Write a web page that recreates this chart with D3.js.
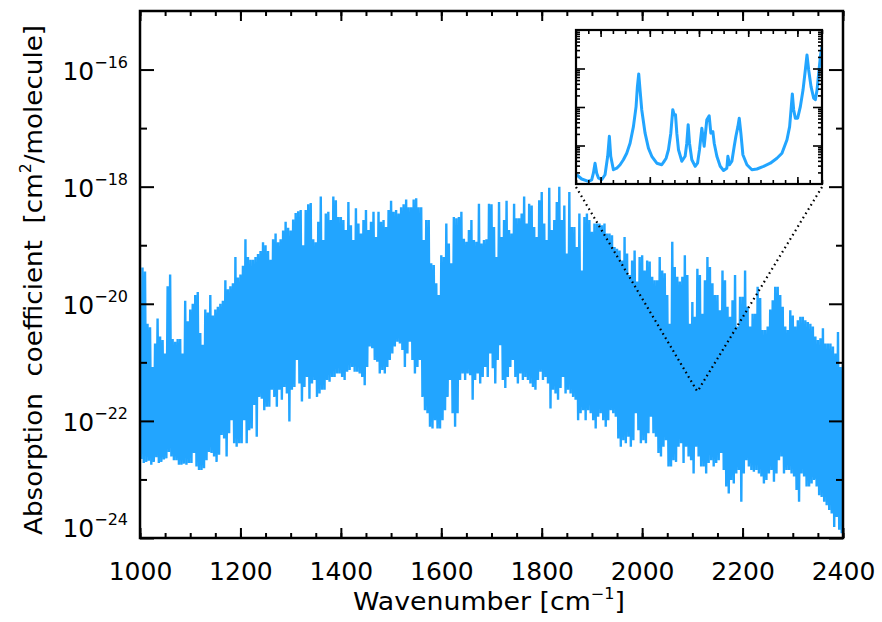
<!DOCTYPE html>
<html>
<head>
<meta charset="utf-8">
<script src="https://cdn.jsdelivr.net/npm/d3@7"></script>
<style>
  html, body { margin: 0; padding: 0; background: #fff; }
  svg { display: block; }
  text { font-family: "DejaVu Sans", sans-serif; fill: #000; }
</style>
</head>
<body>
<svg id="chart" width="882" height="622"></svg>
<script>
// ---- data (log10 of absorption coefficient, cm^2/molecule) ----
// peak values sampled every 5 cm^-1 starting at 1000 cm^-1
const WN_START = 1000, WN_STEP = 5;
const peakLog = [
  -20.2, -19.38, -19.45, -20.34, -20.4, -21.08, -20.68, -20.25, -20.56, -20.62,
  -20.85, -19.7, -19.5, -20.6, -20.65, -20.6, -20.6, -20.85, -19.95, -20.3,
  -20.1, -20.0, -19.85, -19.8, -20.5, -20.7, -20.1, -20.15, -19.85, -20.2,
  -20.1, -20.05, -20.0, -19.95, -19.6, -19.75, -19.7, -19.65, -19.2, -19.55,
  -19.5, -19.35, -18.9, -19.2, -19.25, -19.25, -19.2, -19.15, -19.1, -18.95,
  -19.0, -19.1, -19.25, -18.9, -18.8, -18.95, -18.9, -18.75, -18.6, -18.7,
  -18.75, -18.56, -18.45, -18.42, -18.4, -19.0, -18.4, -18.3, -18.28, -18.9,
  -18.95, -18.6, -18.17, -18.91, -18.46, -18.43, -18.57, -18.17, -18.23, -18.52,
  -18.52, -18.57, -18.74, -18.26, -18.66, -18.91, -18.37, -18.63, -18.8, -18.57,
  -18.4, -18.74, -18.6, -18.43, -18.86, -18.43, -18.6, -18.57, -18.69, -18.4,
  -18.24, -18.43, -18.4, -18.46, -18.35, -18.3, -18.22, -18.35, -18.35, -18.22,
  -18.2, -18.35, -18.35, -18.91, -18.57, -18.57, -19.31, -19.34, -19.65, -19.85,
  -19.17, -19.2, -18.63, -18.97, -19.31, -18.52, -18.54, -18.52, -18.43, -18.89,
  -18.94, -18.74, -18.57, -18.91, -18.94, -18.29, -18.97, -18.91, -18.9, -18.29,
  -18.3, -18.69, -19.2, -18.26, -18.86, -18.57, -18.24, -18.74, -18.8, -18.29,
  -18.54, -18.54, -18.46, -18.17, -18.63, -18.29, -18.32, -18.69, -18.86, -18.23,
  -18.09, -18.63, -18.91, -18.02, -18.74, -18.57, -18.26, -18.0, -18.57, -18.32,
  -19.14, -18.09, -18.69, -18.69, -19.03, -18.46, -19.43, -18.52, -18.46, -18.57,
  -18.77, -18.63, -18.63, -18.63, -18.66, -18.63, -18.8, -18.8, -18.83, -19.03,
  -19.06, -19.09, -19.26, -18.86, -19.14, -19.51, -19.26, -19.09, -19.62, -19.2,
  -19.17, -19.43, -19.26, -19.28, -19.54, -19.6, -19.6, -19.2, -19.43, -19.48,
  -19.85, -20.34, -18.94, -19.37, -19.54, -19.62, -19.54, -19.17, -19.51, -20.34,
  -19.97, -20.22, -19.4, -19.51, -20.17, -19.6, -19.2, -19.37, -19.65, -19.85,
  -19.85, -20.11, -19.43, -19.6, -20.05, -20.22, -19.94, -19.51, -20.39, -19.88,
  -19.88, -19.43, -20.05, -20.39, -20.17, -20.17, -19.71, -19.9, -20.45, -20.45,
  -20.39, -20.1, -19.94, -19.71, -19.71, -19.85, -20.05, -20.39, -20.45, -20.11,
  -20.2, -20.39, -20.28, -20.22, -20.22, -20.28, -20.31, -20.34, -20.39, -20.56,
  -20.62, -20.59, -20.42, -20.68, -20.68, -20.68, -20.73, -20.85, -20.48, -21.08,
  -21.02
];
// trough values sampled every 5 cm^-1 starting at 1002.5 cm^-1
const TROUGH_START = 1002.5;
const troughLog = [
  -22.65, -22.72, -22.7, -22.68, -22.75, -22.7, -22.62, -22.72, -22.7, -22.66,
  -22.64, -22.53, -22.61, -22.67, -22.67, -22.75, -22.75, -22.73, -22.75, -22.72,
  -22.72, -22.55, -22.78, -22.84, -22.84, -22.81, -22.67, -22.53, -22.55, -22.61,
  -22.7, -22.58, -22.24, -22.3, -22.61, -22.21, -21.99, -22.38, -22.44, -22.38,
  -22.38, -21.99, -22.38, -22.16, -22.13, -21.73, -22.27, -21.59, -21.62, -21.82,
  -21.76, -21.76, -21.47, -21.59, -21.76, -21.47, -21.64, -21.42, -21.53, -22.01,
  -21.47, -21.42, -20.96, -21.36, -21.67, -21.42, -21.25, -21.62, -21.36, -21.3,
  -21.59, -21.53, -21.47, -21.47, -21.3, -21.33, -21.25, -21.25, -21.19, -21.19,
  -21.25, -21.3, -21.16, -21.13, -21.08, -21.16, -21.16, -21.19, -21.25, -21.39,
  -21.08, -20.73, -20.76, -20.96, -20.99, -21.19, -21.13, -21.19, -21.08, -20.96,
  -20.85, -20.73, -20.65, -20.68, -20.79, -21.08, -20.85, -20.65, -20.96, -21.19,
  -21.08, -20.96, -21.59, -21.82, -21.87, -22.1, -22.13, -21.99, -22.13, -22.13,
  -21.99, -21.82, -21.59, -21.3, -21.87, -22.1, -21.87, -21.3, -21.19, -21.3,
  -21.19, -21.22, -21.64, -21.3, -21.19, -21.36, -21.25, -21.08, -21.25, -20.85,
  -21.1, -21.36, -20.96, -20.71, -21.3, -21.44, -21.25, -21.08, -20.96, -21.25,
  -21.36, -21.19, -21.3, -21.25, -21.3, -21.36, -21.42, -21.47, -21.3, -21.16,
  -21.3, -21.25, -21.36, -21.79, -21.47, -21.53, -21.64, -21.44, -21.25, -21.53,
  -21.47, -21.53, -21.59, -21.64, -21.99, -21.87, -21.82, -21.99, -21.82, -21.87,
  -21.99, -22.13, -21.93, -21.87, -21.99, -22.1, -21.99, -21.82, -21.87, -21.93,
  -22.3, -22.44, -22.33, -22.38, -22.27, -22.44, -22.33, -21.87, -22.16, -22.38,
  -22.33, -22.38, -22.21, -21.93, -22.21, -22.27, -22.55, -22.61, -22.44, -22.33,
  -22.78, -22.78, -22.67, -22.7, -22.44, -22.38, -22.72, -22.44, -22.61, -22.67,
  -22.9, -22.44, -22.61, -22.78, -22.78, -22.9, -22.72, -22.67, -22.78, -22.72,
  -22.67, -22.55, -22.84, -23.12, -23.24, -23.01, -23.07, -22.9, -22.84, -23.38,
  -22.9, -22.67, -22.78, -22.84, -22.87, -22.84, -22.9, -22.95, -23.07, -23.01,
  -22.9, -22.84, -23.04, -22.9, -22.67, -22.61, -22.9, -22.84, -22.84, -22.9,
  -22.95, -23.18, -23.38, -22.9, -22.95, -23.12, -23.12, -23.07, -23.01, -23.12,
  -23.27, -23.3, -23.38, -23.44, -23.52, -23.58, -23.81, -23.64, -23.86, -23.92
];
// zoomed inset: a single window around 2110 cm^-1
const insetWn = [
  2109.7514, 2109.7615, 2109.7751, 2109.7819, 2109.7853, 2109.7887, 2109.7921, 2109.7955, 2109.8022, 2109.8090,
  2109.8144, 2109.8178, 2109.8206, 2109.8260, 2109.8328, 2109.8396, 2109.8463, 2109.8531, 2109.8599, 2109.8667,
  2109.8721, 2109.8748, 2109.8775, 2109.8802, 2109.8836, 2109.8904, 2109.8972, 2109.9040, 2109.9142, 2109.9243,
  2109.9291, 2109.9332, 2109.9379, 2109.9427, 2109.9467, 2109.9495, 2109.9522, 2109.9549, 2109.9583, 2109.9651,
  2109.9718, 2109.9752, 2109.9780, 2109.9807, 2109.9854, 2109.9922, 2109.9970, 2110.0010, 2110.0058, 2110.0105,
  2110.0159, 2110.0207, 2110.0241, 2110.0282, 2110.0309, 2110.0363, 2110.0431, 2110.0499, 2110.0566, 2110.0587,
  2110.0621, 2110.0668, 2110.0716, 2110.0750, 2110.0790, 2110.0818, 2110.0851, 2110.0892, 2110.0974, 2110.1075,
  2110.1177, 2110.1313, 2110.1449, 2110.1584, 2110.1686, 2110.1788, 2110.1842, 2110.1876, 2110.1897, 2110.1924,
  2110.1958, 2110.2005, 2110.2060, 2110.2114, 2110.2161, 2110.2195, 2110.2229, 2110.2277, 2110.2331, 2110.2365,
  2110.2399, 2110.2433, 2110.2467, 2110.2500
];
const insetLog = [
  -22.76, -22.87, -22.93, -22.89, -22.72, -22.46, -22.72, -22.84, -22.89, -22.76,
  -22.28, -21.76, -22.28, -22.63, -22.59, -22.50, -22.37, -22.20, -21.94, -21.51,
  -20.99, -20.47, -20.14, -20.56, -21.07, -21.68, -22.07, -22.28, -22.46, -22.50,
  -22.41, -22.33, -22.11, -21.68, -21.07, -21.20, -21.20, -21.68, -22.11, -22.41,
  -22.28, -21.94, -21.46, -21.94, -22.37, -22.54, -22.46, -22.11, -21.55, -22.02,
  -21.33, -21.23, -21.68, -21.64, -21.94, -22.28, -22.54, -22.65, -22.59, -22.28,
  -22.50, -22.41, -22.02, -21.76, -21.51, -21.29, -21.68, -22.24, -22.50, -22.63,
  -22.61, -22.54, -22.46, -22.33, -22.20, -21.85, -21.51, -20.99, -20.66, -21.07,
  -21.29, -21.29, -20.99, -20.56, -20.04, -19.65, -20.04, -20.47, -20.77, -20.81,
  -20.56, -20.12, -19.69, -19.43
];
const insetCenterWn = 2110, insetCenterLog = -21.5;

const xTickLabels = [1000, 1200, 1400, 1600, 1800, 2000, 2200, 2400];
const xMinorTicks = d3.range(1000, 2401, 50);
const yTickExps = [-24, -22, -20, -18, -16];
const yMinorExps = [-23, -21, -19, -17];

// ---- layout ----
const L = 140, R = 843, T = 11, B = 538;
const BLUE = "#22a5ff";
const svg = d3.select("#chart");

const x = d3.scaleLinear().domain([1000, 2400]).range([L, R]);
const y = d3.scaleLog().domain([1e-24, 1e-15]).range([B, T]);

// spectrum as peak/trough zig-zag
const pts = [];
for (let i = 0; i < peakLog.length; i++) {
  pts.push([WN_START + WN_STEP * i, Math.pow(10, peakLog[i])]);
  if (i < troughLog.length) pts.push([TROUGH_START + WN_STEP * i, Math.pow(10, troughLog[i])]);
}
svg.append("clipPath").attr("id", "plotclip")
  .append("rect").attr("x", L).attr("y", T).attr("width", R - L).attr("height", B - T);
svg.append("path")
  .datum(pts)
  .attr("clip-path", "url(#plotclip)")
  .attr("fill", "none")
  .attr("stroke", BLUE)
  .attr("stroke-width", 2.4)
  .attr("stroke-linejoin", "bevel")
  .attr("d", d3.line().x(d => x(d[0])).y(d => y(d[1])));

// ---- axes ----
function styleAxis(g) {
  g.select(".domain").remove();
  g.selectAll(".tick line").attr("stroke", "#000").attr("stroke-width", 2);
}
svg.append("g").attr("transform", `translate(0,${B})`)
  .call(d3.axisBottom(x).tickValues(xMinorTicks).tickSize(-5).tickFormat(""))
  .call(styleAxis);
const xAx = svg.append("g").attr("transform", `translate(0,${B})`)
  .call(d3.axisBottom(x).tickValues(xTickLabels).tickSize(-10).tickPadding(24).tickFormat(d3.format("d")))
  .call(styleAxis);
xAx.selectAll(".tick text").attr("font-size", 25).attr("font-family", "DejaVu Sans").attr("fill", "#000");
svg.append("g").attr("transform", `translate(0,${T})`)
  .call(d3.axisTop(x).tickValues(xMinorTicks).tickSize(-5).tickFormat(""))
  .call(styleAxis);
svg.append("g").attr("transform", `translate(0,${T})`)
  .call(d3.axisTop(x).tickValues(xTickLabels).tickSize(-10).tickFormat(""))
  .call(styleAxis);

const yMajor = yTickExps.map(e => Math.pow(10, e));
const yMinor = yMinorExps.map(e => Math.pow(10, e));
const yAx = svg.append("g").attr("transform", `translate(${L},0)`)
  .call(d3.axisLeft(y).tickValues(yMajor).tickSize(-14).tickPadding(12))
  .call(styleAxis);
svg.append("g").attr("transform", `translate(${L},0)`)
  .call(d3.axisLeft(y).tickValues(yMinor).tickSize(-7).tickFormat(""))
  .call(styleAxis);
svg.append("g").attr("transform", `translate(${R},0)`)
  .call(d3.axisRight(y).tickValues(yMajor).tickSize(-14).tickFormat(""))
  .call(styleAxis);
svg.append("g").attr("transform", `translate(${R},0)`)
  .call(d3.axisRight(y).tickValues(yMinor).tickSize(-7).tickFormat(""))
  .call(styleAxis);

yAx.selectAll(".tick text").each(function(d, i) {
  const e = yTickExps[i];
  const t = d3.select(this);
  t.text(null).attr("dy", null).attr("font-size", 25).attr("fill", "#000")
    .attr("y", e === -24 ? -2 : 10);
  t.append("tspan").text("10");
  t.append("tspan").attr("font-size", 16).attr("dy", -12).text("\u2212" + Math.abs(e));
});

// frame
svg.append("rect").attr("x", L).attr("y", T).attr("width", R - L).attr("height", B - T)
  .attr("fill", "none").attr("stroke", "#000").attr("stroke-width", 2.5);

// axis titles
svg.append("text")
  .attr("x", 489).attr("y", 610).attr("text-anchor", "middle").attr("font-size", 25)
  .attr("textLength", 272).attr("lengthAdjust", "spacingAndGlyphs")
  .call(t => {
    t.append("tspan").text("Wavenumber [cm");
    t.append("tspan").attr("font-size", 15).attr("dy", -11).text("\u22121");
    t.append("tspan").attr("dy", 11).text("]");
  });
svg.append("text")
  .attr("transform", "translate(42,280) rotate(-90)")
  .attr("text-anchor", "middle").attr("font-size", 25)
  .attr("textLength", 510).attr("lengthAdjust", "spacingAndGlyphs")
  .call(t => {
    t.append("tspan").text("Absorption\u00a0\u00a0coefficient\u00a0\u00a0[cm");
    t.append("tspan").attr("font-size", 15).attr("dy", -11).text("2");
    t.append("tspan").attr("dy", 11).text("/molecule]");
  });

// ---- inset ----
const IL = 576, IR = 822, IT = 30, IB = 184;
const xi = d3.scaleLinear().domain([2109.75, 2110.25]).range([IL, IR]);
const yi = d3.scaleLog().domain([1e-23, 1e-19]).range([IB, IT]);

// connector dotted lines
const cx = x(insetCenterWn), cy = y(Math.pow(10, insetCenterLog));
[[IL, IB], [IR, IB]].forEach(p => {
  svg.append("line").attr("x1", p[0]).attr("y1", p[1] + 3).attr("x2", cx).attr("y2", cy)
    .attr("stroke", "#000").attr("stroke-width", 2.2).attr("stroke-dasharray", "1.6,3.4");
});

svg.append("rect").attr("x", IL).attr("y", IT).attr("width", IR - IL).attr("height", IB - IT)
  .attr("fill", "#fff");
svg.append("clipPath").attr("id", "insetclip")
  .append("rect").attr("x", IL).attr("y", IT).attr("width", IR - IL).attr("height", IB - IT);
svg.append("path")
  .datum(insetWn.map((w, i) => [w, Math.pow(10, insetLog[i])]))
  .attr("clip-path", "url(#insetclip)")
  .attr("fill", "none").attr("stroke", BLUE).attr("stroke-width", 3)
  .attr("stroke-linejoin", "round")
  .attr("d", d3.line().x(d => xi(d[0])).y(d => yi(d[1])));

const ixMinor = d3.range(0, 21).map(i => 2109.75 + i * 0.025);
const ixMajor = d3.range(0, 5).map(i => 2109.8 + i * 0.1);
const iyMajor = [1e-22, 1e-21, 1e-20];
const iyMinor = [];
[-23, -22, -21, -20].forEach(e => { for (let k = 2; k <= 9; k++) iyMinor.push(k * Math.pow(10, e)); });

function insetAxis(axis, tr) {
  svg.append("g").attr("transform", tr).call(axis.tickFormat("")).call(g => {
    g.select(".domain").remove();
    g.selectAll(".tick line").attr("stroke", "#000").attr("stroke-width", 1.6);
  });
}
insetAxis(d3.axisBottom(xi).tickValues(ixMinor).tickSize(-4), `translate(0,${IB})`);
insetAxis(d3.axisBottom(xi).tickValues(ixMajor).tickSize(-7), `translate(0,${IB})`);
insetAxis(d3.axisTop(xi).tickValues(ixMinor).tickSize(-4), `translate(0,${IT})`);
insetAxis(d3.axisTop(xi).tickValues(ixMajor).tickSize(-7), `translate(0,${IT})`);
insetAxis(d3.axisLeft(yi).tickValues(iyMinor).tickSize(-4), `translate(${IL},0)`);
insetAxis(d3.axisLeft(yi).tickValues(iyMajor).tickSize(-9), `translate(${IL},0)`);
insetAxis(d3.axisRight(yi).tickValues(iyMinor).tickSize(-4), `translate(${IR},0)`);
insetAxis(d3.axisRight(yi).tickValues(iyMajor).tickSize(-9), `translate(${IR},0)`);

svg.append("rect").attr("x", IL).attr("y", IT).attr("width", IR - IL).attr("height", IB - IT)
  .attr("fill", "none").attr("stroke", "#000").attr("stroke-width", 2.2);
</script>
</body>
</html>
